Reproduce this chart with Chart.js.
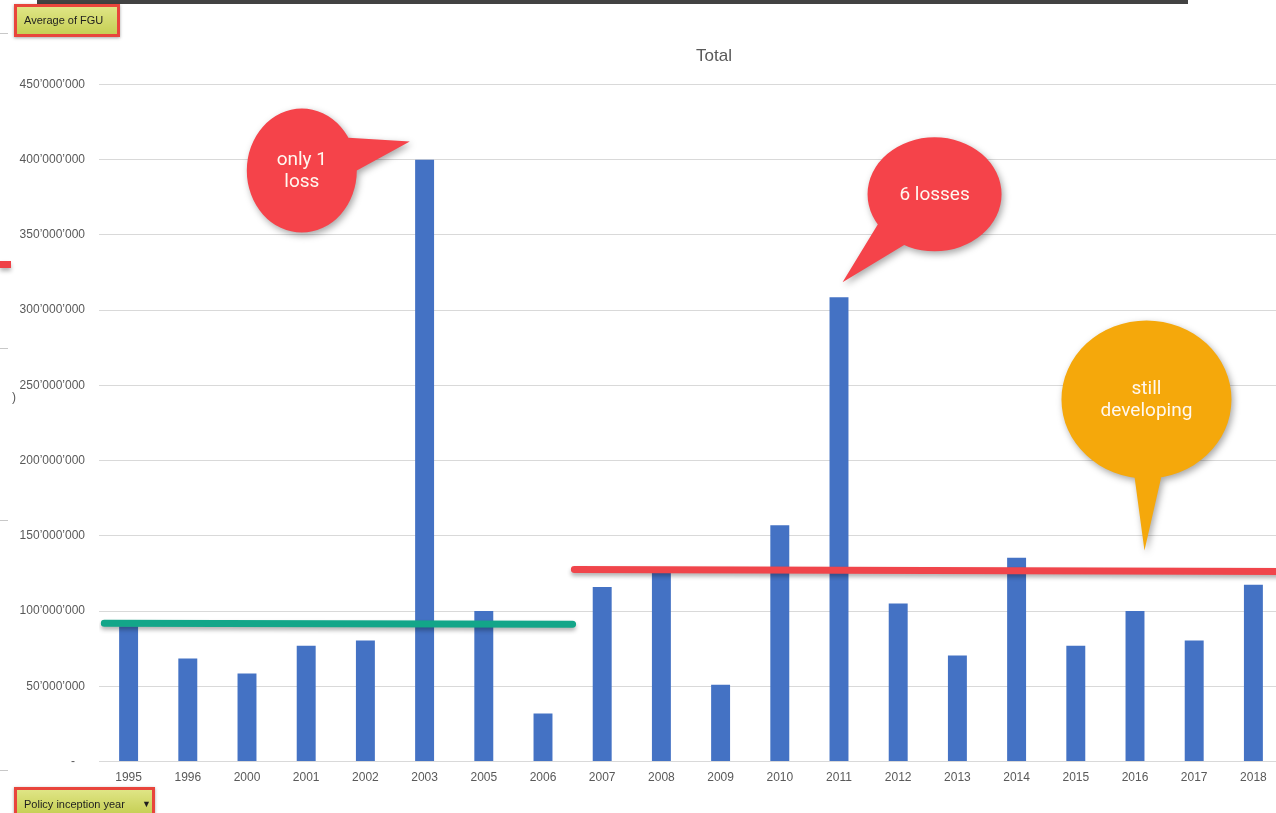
<!DOCTYPE html>
<html>
<head>
<meta charset="utf-8">
<title>Average of FGU by policy inception year</title>
<script src="https://cdn.jsdelivr.net/npm/chart.js@4.4.0/dist/chart.umd.min.js"></script>
<style>
  html, body { margin: 0; padding: 0; background: #fff; overflow: hidden; width: 1276px; height: 813px; }
  #wrap { position: absolute; left: 0; top: 0; width: 1428px; height: 813px; }
  .topbar { position: absolute; left: 37px; top: 0; width: 1151px; height: 4px; background: #424242; }
  .field-btn {
    position: absolute; left: 14px; box-sizing: border-box;
    border: 3px solid #e8453c;
    background: linear-gradient(#dfe585, #c6cf55);
    box-shadow: 0 1px 3px rgba(0,0,0,0.35);
    font: 11px "Liberation Sans", Arial, sans-serif; color: #1e1e1e;
    padding-left: 7px; white-space: nowrap;
  }
  #btnValue { top: 4px; width: 106px; height: 33px; line-height: 27px; }
  #btnAxis { top: 787px; width: 141px; height: 30px; line-height: 28px; }
  #btnAxis .arrow { position: absolute; left: 125px; top: 0; font-size: 9px; }
  .edge-red { position: absolute; left: 0; top: 261px; width: 11px; height: 7px; background: #ef4147; box-shadow: 0 3px 4px rgba(0,0,0,0.3); }
  .edge-tick { position: absolute; left: 0; width: 8px; height: 1px; background: #c8c8c8; }
  .edge-paren { position: absolute; left: 12px; top: 390px; font: 12px "Liberation Sans", Arial, sans-serif; color: #595959; }
</style>
</head>
<body>
<div class="topbar"></div>
<div id="wrap"><canvas id="fguChart" width="1428" height="813"></canvas></div>
<div class="field-btn" id="btnValue">Average of FGU</div>
<div class="field-btn" id="btnAxis">Policy inception year<span class="arrow">&#9660;</span></div>
<div class="edge-red"></div>
<div class="edge-tick" style="top:33px"></div>
<div class="edge-tick" style="top:348px"></div>
<div class="edge-tick" style="top:520px"></div>
<div class="edge-tick" style="top:770px"></div>
<div class="edge-paren">)</div>
<script>
// policy inception years and the average FGU per year
const years = ['1995', '1996', '2000', '2001', '2002', '2003', '2005', '2006', '2007', '2008',
               '2009', '2010', '2011', '2012', '2013', '2014', '2015', '2016', '2017', '2018'];
const avgFgu = [90e6, 68.5e6, 58.5e6, 77e6, 80.5e6, 400e6, 100e6, 32e6, 116e6, 126e6,
                51e6, 157e6, 308.5e6, 105e6, 70.5e6, 135.5e6, 77e6, 100e6, 80.5e6, 117.5e6];
const yTicks = [0, 50e6, 100e6, 150e6, 200e6, 250e6, 300e6, 350e6, 400e6, 450e6];

// hand-drawn level lines: [category position, value]
const earlyLevel = [[-0.41, 92e6], [7.5, 91.2e6]];
const lateLevel = [[7.53, 127.6e6], [19.5, 126.3e6]];

// speech bubbles, tip anchored on the data scales
const callouts = [
  { lines: ['only 1', 'loss'], tip: [4.75, 412e6], color: '#f5434a', dx: -108, dy: 29, rx: 55, ry: 62, base: [-32, 0] },
  { lines: ['6 losses'], tip: [12.06, 318.5e6], color: '#f5434a', dx: 92, dy: -88, rx: 67, ry: 57, base: [148, 117] },
  { lines: ['still', 'developing'], tip: [17.16, 140.3e6], color: '#f5a80b', dx: 2, dy: -151, rx: 85, ry: 79, base: [98, 80] }
];

function fmtApos(v) {
  if (v === 0) return '-   ';
  return String(Math.round(v)).replace(/\B(?=(\d{3})+(?!\d))/g, '\u2019');
}

const lineShadow = {
  id: 'lineShadow',
  beforeDatasetDraw(chart, args) {
    if (args.meta.type !== 'line') return;
    const ctx = chart.ctx;
    ctx.save();
    ctx.shadowColor = 'rgba(0,0,0,0.3)';
    ctx.shadowBlur = 4;
    ctx.shadowOffsetY = 3;
  },
  afterDatasetDraw(chart, args) {
    if (args.meta.type !== 'line') return;
    chart.ctx.restore();
  }
};

const calloutPlugin = {
  id: 'callouts',
  afterDraw(chart) {
    const ctx = chart.ctx;
    const xs = chart.scales.xl, ys = chart.scales.y;
    callouts.forEach(c => {
      const tx = xs.getPixelForValue(c.tip[0]);
      const ty = ys.getPixelForValue(c.tip[1]);
      const cx = tx + c.dx, cy = ty + c.dy;
      const a0 = c.base[0] * Math.PI / 180, a1 = c.base[1] * Math.PI / 180;
      let p0 = [cx + c.rx * Math.cos(a0), cy + c.ry * Math.sin(a0)];
      let p1 = [cx + c.rx * Math.cos(a1), cy + c.ry * Math.sin(a1)];
      // keep the tail wound the same way as the ellipse so they fill as one shape
      const cross = (tx - p0[0]) * (p1[1] - ty) - (ty - p0[1]) * (p1[0] - tx);
      if (cross < 0) { const t = p0; p0 = p1; p1 = t; }

      ctx.save();
      ctx.shadowColor = 'rgba(0,0,0,0.35)';
      ctx.shadowBlur = 7;
      ctx.shadowOffsetX = 2;
      ctx.shadowOffsetY = 3;
      ctx.fillStyle = c.color;
      ctx.beginPath();
      ctx.ellipse(cx, cy, c.rx, c.ry, 0, 0, Math.PI * 2);
      ctx.moveTo(p0[0], p0[1]);
      ctx.lineTo(tx, ty);
      ctx.lineTo(p1[0], p1[1]);
      ctx.closePath();
      ctx.fill('nonzero');
      ctx.restore();

      ctx.save();
      ctx.fillStyle = '#fff8f0';
      ctx.font = '19px Roboto, "Liberation Sans", sans-serif';
      ctx.textAlign = 'center';
      ctx.textBaseline = 'middle';
      const lh = 22;
      const y0 = cy - (c.lines.length - 1) * lh / 2 + 1;
      c.lines.forEach((t, i) => ctx.fillText(t, cx, y0 + i * lh));
      ctx.restore();
    });
  }
};

const ctx = document.getElementById('fguChart').getContext('2d');
new Chart(ctx, {
  data: {
    labels: years,
    datasets: [
      {
        type: 'bar',
        label: 'Total',
        data: avgFgu,
        backgroundColor: '#4472c4',
        grouped: false,
        categoryPercentage: 1,
        barPercentage: 0.32,
        order: 2
      },
      {
        type: 'line',
        data: earlyLevel.map(p => ({ x: p[0], y: p[1] })),
        xAxisID: 'xl',
        borderColor: '#13a689',
        borderWidth: 7,
        borderCapStyle: 'round',
        pointRadius: 0,
        order: 1
      },
      {
        type: 'line',
        data: lateLevel.map(p => ({ x: p[0], y: p[1] })),
        xAxisID: 'xl',
        borderColor: '#f0454b',
        borderWidth: 7,
        borderCapStyle: 'round',
        pointRadius: 0,
        order: 1
      }
    ]
  },
  options: {
    responsive: false,
    animation: false,
    devicePixelRatio: 1,
    layout: { padding: { left: 0, right: 0, top: 0, bottom: 19 } },
    plugins: {
      legend: { display: false },
      tooltip: { enabled: false },
      title: {
        display: true,
        text: 'Total',
        color: '#595959',
        font: { family: '"Liberation Sans", Arial, sans-serif', size: 17, weight: 'normal' },
        padding: { top: 46, bottom: 18 }
      }
    },
    scales: {
      x: {
        type: 'category',
        offset: true,
        grid: { display: false, drawTicks: false },
        border: { display: true, color: '#d9d9d9' },
        ticks: { color: '#595959', padding: 9, maxRotation: 0, autoSkip: false,
                 font: { family: '"Liberation Sans", Arial, sans-serif', size: 12 } }
      },
      xl: { type: 'linear', display: false, min: -0.5, max: 19.5 },
      y: {
        min: 0,
        max: 450e6,
        afterFit(scale) { scale.width = 99; },
        afterBuildTicks(scale) { scale.ticks = yTicks.map(v => ({ value: v })); },
        grid: { color: '#d9d9d9', drawTicks: false },
        border: { display: false },
        ticks: { color: '#595959', padding: 14, callback: v => fmtApos(v),
                 font: { family: '"Liberation Sans", Arial, sans-serif', size: 12 } }
      },
      // empty strip on the right of the plot, the part of the chart beyond the window
      yr: {
        position: 'right',
        min: 0,
        max: 450e6,
        afterFit(scale) { scale.width = 145; },
        grid: { display: false, drawTicks: false },
        border: { display: false },
        ticks: { display: false }
      }
    }
  },
  plugins: [lineShadow, calloutPlugin]
});
</script>
</body>
</html>
